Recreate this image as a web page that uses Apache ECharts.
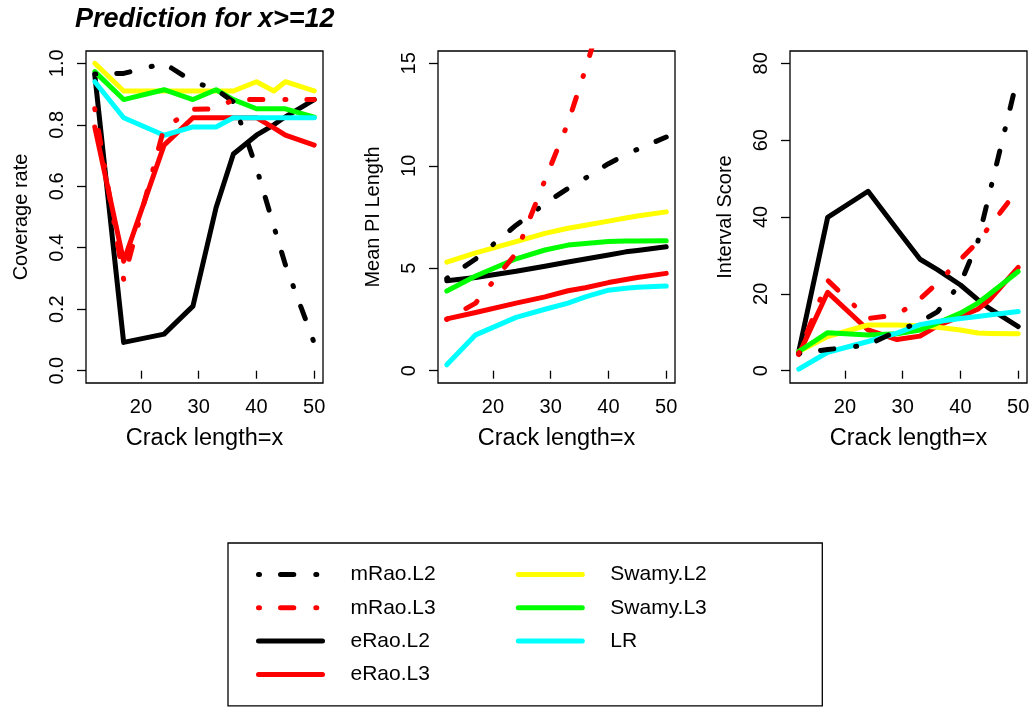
<!doctype html>
<html>
<head>
<meta charset="utf-8">
<script src="https://cdn.jsdelivr.net/npm/echarts@6/dist/echarts.min.js"></script>
<style>
    html, body { margin: 0; padding: 0; background: #fff; }
    #main { width: 1036px; height: 709px; }
</style>
</head>
<body>
<div id="main"></div>
<script type="text/javascript">
    // crack lengths (x) shared by all three panels
    var crackLen = [12, 17, 24, 29, 33, 36, 40, 43, 45, 50];
    var xTicks = [20, 30, 40, 50];

    // panel 1: coverage rate
    var covMRaoL2 = [0.965, 0.967, 1.0, 0.94, 0.915, 0.875, 0.66, 0.47, 0.345, 0.09];
    var covMRaoL3 = [0.852, 0.297, 0.79, 0.85, 0.852, 0.882, 0.882, 0.882, 0.882, 0.882];
    var covERaoL2 = [0.963, 0.092, 0.119, 0.21, 0.53, 0.705, 0.766, 0.80, 0.826, 0.882];
    var covERaoL3 = [0.793, 0.356, 0.734, 0.823, 0.823, 0.823, 0.823, 0.79, 0.766, 0.734];
    var covSwamyL2 = [1.0, 0.91, 0.91, 0.91, 0.91, 0.91, 0.94, 0.91, 0.94, 0.91];
    var covSwamyL3 = [0.973, 0.882, 0.914, 0.882, 0.914, 0.882, 0.852, 0.852, 0.852, 0.825];
    var covLR = [0.94, 0.823, 0.766, 0.793, 0.793, 0.823, 0.823, 0.823, 0.823, 0.823];
    var covTicks = [0, 0.2, 0.4, 0.6, 0.8, 1.0];

    // panel 2: mean PI length
    var lenMRaoL2 = [4.5, 5.45, 7.1, 8.15, 8.9, 9.4, 10.1, 10.55, 10.8, 11.4];
    var lenMRaoL3 = [2.5, 3.3, 5.73, 9.3, 12.1, 14.7, 18.4, 21, 23, 28];
    var lenERaoL2 = [4.39, 4.55, 4.85, 5.1, 5.3, 5.45, 5.65, 5.8, 5.87, 6.05];
    var lenERaoL3 = [2.53, 2.84, 3.3, 3.6, 3.9, 4.05, 4.3, 4.45, 4.55, 4.75];
    var lenSwamyL2 = [5.3, 5.75, 6.3, 6.7, 6.95, 7.1, 7.3, 7.45, 7.55, 7.75];
    var lenSwamyL3 = [3.89, 4.62, 5.46, 5.89, 6.13, 6.21, 6.31, 6.33, 6.33, 6.34];
    var lenLR = [0.29, 1.75, 2.6, 3.0, 3.3, 3.6, 3.93, 4.02, 4.07, 4.13];
    var lenTicks = [0, 5, 10, 15];

    // panel 3: interval score
    var isMRaoL2 = [4.5, 5.5, 6.7, 10.3, 12.7, 15.3, 22.7, 33.6, 46, 77];
    var isMRaoL3 = [4.5, 23.5, 13.6, 14.5, 18.7, 22.8, 29, 33.5, 37.5, 47.2];
    var isERaoL2 = [5.0, 39.9, 46.7, 36.8, 29.0, 26.3, 22.3, 18.5, 16.2, 11.5];
    var isERaoL3 = [4.2, 20.4, 10.6, 8.1, 9.0, 11.7, 14.1, 16.0, 18.4, 26.9];
    var isSwamyL2 = [5.0, 8.9, 11.9, 11.9, 11.7, 11.3, 10.6, 9.8, 9.7, 9.6];
    var isSwamyL3 = [5.0, 9.9, 9.3, 9.6, 10.6, 12.4, 15.0, 17.6, 19.9, 25.8];
    var isLR = [0.4, 4.8, 7.6, 9.8, 12.0, 12.8, 13.6, 14.1, 14.5, 15.4];
    var isTicks = [0, 20, 40, 60, 80];

    var legendNames = ['mRao.L2', 'mRao.L3', 'eRao.L2', 'eRao.L3', 'Swamy.L2', 'Swamy.L3', 'LR'];
    // drawing order (later on top)
    var drawOrder = ['eRao.L2', 'eRao.L3', 'Swamy.L2', 'Swamy.L3', 'LR', 'mRao.L2', 'mRao.L3'];

    var FONT = '"Liberation Sans", Arial, Helvetica, sans-serif';
    var dotDash = [1, 21, 13.3, 22];
    var lineLook = {
        'mRao.L2': { color: '#000000', type: dotDash },
        'mRao.L3': { color: '#ff0000', type: dotDash },
        'eRao.L2': { color: '#000000', type: 'solid' },
        'eRao.L3': { color: '#ff0000', type: 'solid' },
        'Swamy.L2': { color: '#ffff00', type: 'solid' },
        'Swamy.L3': { color: '#00ff00', type: 'solid' },
        'LR': { color: '#00ffff', type: 'solid' }
    };

    var panels = [
        { name: 'Coverage rate', min: -0.04, max: 1.04, ticks: covTicks, digits: 1, left: 86,
          data: { 'mRao.L2': covMRaoL2, 'mRao.L3': covMRaoL3, 'eRao.L2': covERaoL2, 'eRao.L3': covERaoL3,
                  'Swamy.L2': covSwamyL2, 'Swamy.L3': covSwamyL3, 'LR': covLR } },
        { name: 'Mean PI Length', min: -0.6, max: 15.6, ticks: lenTicks, digits: 0, left: 438,
          data: { 'mRao.L2': lenMRaoL2, 'mRao.L3': lenMRaoL3, 'eRao.L2': lenERaoL2, 'eRao.L3': lenERaoL3,
                  'Swamy.L2': lenSwamyL2, 'Swamy.L3': lenSwamyL3, 'LR': lenLR } },
        { name: 'Interval Score', min: -3.2, max: 83.2, ticks: isTicks, digits: 0, left: 790,
          data: { 'mRao.L2': isMRaoL2, 'mRao.L3': isMRaoL3, 'eRao.L2': isERaoL2, 'eRao.L3': isERaoL3,
                  'Swamy.L2': isSwamyL2, 'Swamy.L3': isSwamyL3, 'LR': isLR } }
    ];

    var grids = [], xAxes = [], yAxes = [], series = [];
    panels.forEach(function (p, i) {
        grids.push({
            left: p.left, top: 51, width: 237, height: 332,
            show: true, borderColor: '#000', borderWidth: 1.3, backgroundColor: 'transparent'
        });
        xAxes.push({
            type: 'value', gridIndex: i, min: 10.48, max: 51.52,
            axisLine: { show: false }, splitLine: { show: false },
            axisTick: { show: true, customValues: xTicks, length: 8, lineStyle: { color: '#000', width: 1.3 } },
            axisLabel: { customValues: xTicks, margin: 14, color: '#000', fontSize: 20, fontFamily: FONT },
            name: 'Crack length=x', nameLocation: 'middle', nameGap: 44,
            nameTextStyle: { color: '#000', fontSize: 23.5, fontFamily: FONT }
        });
        yAxes.push({
            type: 'value', gridIndex: i, min: p.min, max: p.max,
            axisLine: { show: false }, splitLine: { show: false },
            axisTick: { show: true, customValues: p.ticks, length: 9, lineStyle: { color: '#000', width: 1.3 } },
            axisLabel: {
                customValues: p.ticks, rotate: 90, margin: 19, color: '#000', fontSize: 20, fontFamily: FONT,
                formatter: (function (d) { return function (v) { return Number(v).toFixed(d); }; })(p.digits)
            },
            name: p.name, nameLocation: 'middle', nameGap: 55, nameRotate: 90,
            nameTextStyle: { color: '#000', fontSize: 20, fontFamily: FONT }
        });
        drawOrder.forEach(function (nm, k) {
            var ys = p.data[nm];
            series.push({
                name: nm, type: 'line', xAxisIndex: i, yAxisIndex: i,
                data: crackLen.map(function (x, j) { return [x, ys[j]]; }),
                symbol: 'none', showSymbol: false, clip: true, z: 2 + k,
                lineStyle: { color: lineLook[nm].color, width: 5, type: lineLook[nm].type, cap: 'round', join: 'round' },
                itemStyle: { color: lineLook[nm].color },
                emphasis: { disabled: true }
            });
        });
    });

    var myChart = echarts.init(document.getElementById('main'));
    myChart.setOption({
        animation: false,
        backgroundColor: '#fff',
        title: {
            text: 'Prediction for x>=12', left: 75, top: 6, padding: 0,
            textStyle: { color: '#000', fontSize: 27, fontWeight: 'bold', fontStyle: 'italic', fontFamily: FONT }
        },
        legend: {
            data: legendNames, orient: 'vertical', left: 228, top: 543, height: 130,
            padding: [19, 55, 19, 28], itemGap: 8.3, itemWidth: 64, itemHeight: 14,
            borderColor: '#000', borderWidth: 1.3, borderRadius: 0, selectedMode: false,
            lineStyle: { width: 5 },
            itemStyle: { opacity: 0, borderWidth: 0 },
            textStyle: { color: '#000', fontSize: 21, fontFamily: FONT, lineHeight: 25, width: 157, padding: [0, 0, 0, 23] }
        },
        grid: grids,
        xAxis: xAxes,
        yAxis: yAxes,
        series: series
    });
</script>
</body>
</html>
